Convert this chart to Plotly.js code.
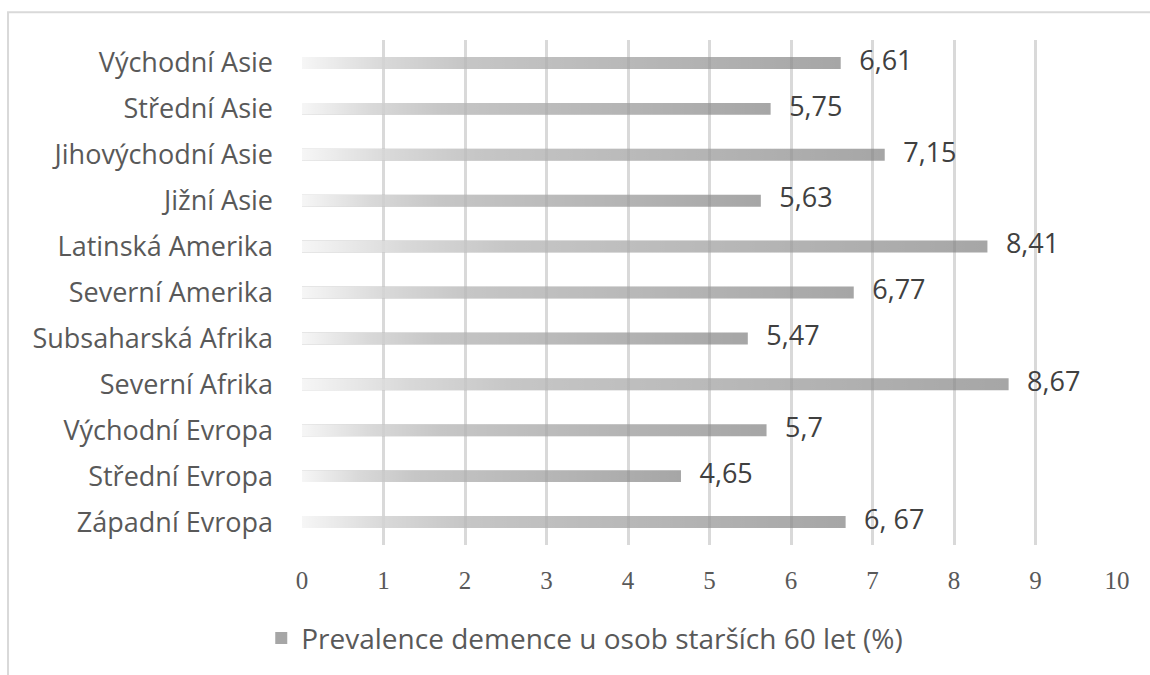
<!DOCTYPE html>
<html>
<head>
<meta charset="utf-8">
<script src="https://cdn.plot.ly/plotly-3.0.1.min.js"></script>
<style>html,body{margin:0;padding:0;background:#fff;}#chart{width:1150px;height:675px;}</style>
</head>
<body>
<div id="chart"></div>
<script>
// Categories listed top to bottom as in the chart
const regions = ["Východní Asie","Střední Asie","Jihovýchodní Asie","Jižní Asie","Latinská Amerika","Severní Amerika","Subsaharská Afrika","Severní Afrika","Východní Evropa","Střední Evropa","Západní Evropa"];
const prevalence = [6.61, 5.75, 7.15, 5.63, 8.41, 6.77, 5.47, 8.67, 5.70, 4.65, 6.67];
const valueLabels = ["6,61","5,75","7,15","5,63","8,41","6,77","5,47","8,67","5,7","4,65","6, 67"];
const xTicks = [0,1,2,3,4,5,6,7,8,9,10];
const seriesName = "Prevalence demence u osob starších 60 let (%)";

const half = 0.13;
const idx = regions.map((r,i)=>i);
const traces = [];
// the data series as real bars
traces.push({
  type:'bar', orientation:'h', x:prevalence, y:idx, width:2*half,
  marker:{color:'rgba(128,128,128,0.7)', line:{width:0}},
  name:seriesName, showlegend:true, hoverinfo:'skip'
});
// white-to-transparent overlay on each bar to give the gradient fill
const grad = {type:'horizontal', colorscale:[[0,'rgba(255,255,255,0.9)'],[0.15,'rgba(255,255,255,0.57)'],[0.3,'rgba(255,255,255,0.36)'],[1,'rgba(255,255,255,0)']]};
regions.forEach((r,i)=>{
  const v = prevalence[i];
  traces.push({
    type:'scatter', mode:'lines', fill:'toself',
    x:[0, v, v, 0, 0], y:[i-half, i-half, i+half, i+half, i-half],
    line:{width:0, color:'rgba(0,0,0,0)'},
    fillcolor:'rgba(255,255,255,0.3)',
    fillgradient:grad,
    showlegend:false, hoverinfo:'skip'
  });
});
traces.push({
  type:'scatter', mode:'markers+text',
  x:prevalence, y:idx,
  text:valueLabels, textposition:'middle right',
  marker:{size:28, color:'rgba(0,0,0,0)'},
  textfont:{family:'Open Sans, sans-serif', size:27, color:'#404040'},
  showlegend:false, hoverinfo:'skip'
});

const layout = {
  width:1150, height:675,
  margin:{l:302, r:33, t:40, b:127},
  paper_bgcolor:'#fff', plot_bgcolor:'#fff',
  xaxis:{range:[0,10], tickvals:xTicks, ticktext:xTicks.map(String),
    showgrid:true, gridcolor:'#d9d9d9', gridwidth:3, zeroline:false, showline:false,
    ticks:'', ticklabelstandoff:18,
    tickfont:{family:'Liberation Serif, serif', size:25, color:'#595959'}, fixedrange:true},
  yaxis:{range:[10.5,-0.5], tickvals:idx, ticktext:regions,
    showgrid:false, zeroline:false, showline:false, ticks:'', ticklabelstandoff:28,
    tickfont:{family:'Open Sans, sans-serif', size:27, color:'#595959'}, fixedrange:true},
  showlegend:true,
  legend:{orientation:'h', x:-0.05, xanchor:'left', y:-0.135, yanchor:'top',
    font:{family:'Open Sans, sans-serif', size:28, color:'#595959'}, itemwidth:30},
  shapes:[{type:'rect', xref:'paper', yref:'paper', x0:-0.3607, x1:1.6, y0:-1, y1:1.0551,
    line:{color:'#d9d9d9', width:2}, fillcolor:'rgba(0,0,0,0)', layer:'below'}]
};
Plotly.newPlot('chart', traces, layout, {displayModeBar:false, staticPlot:true});
</script>
</body>
</html>
